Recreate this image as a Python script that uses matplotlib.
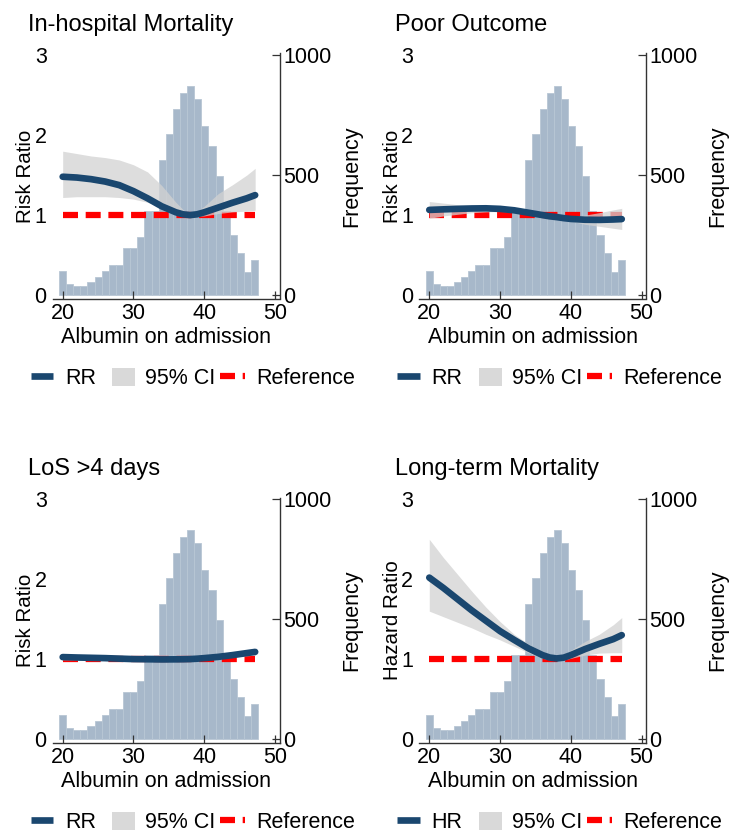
import matplotlib
matplotlib.use('Agg')
import matplotlib.pyplot as plt
from matplotlib.lines import Line2D
from matplotlib.patches import Patch

plt.rcParams['font.family'] = ['Liberation Sans', 'DejaVu Sans']

# ---------------- data ----------------
hist_start = 19.48
hist_width = 1.006
frequency = [102, 46, 39, 36, 54, 74, 102, 125, 127, 195, 195, 241, 352, 352,
             564, 670, 774, 844, 872, 816, 705, 621, 495, 349, 251, 176, 98, 148]

albumin = [20, 22, 24, 26, 28, 30, 32, 34, 36, 37, 38, 39, 40, 42, 44, 46, 47.2]

titles = ["In-hospital Mortality", "Poor Outcome", "LoS >4 days", "Long-term Mortality"]
ylabels = ["Risk Ratio", "Risk Ratio", "Risk Ratio", "Hazard Ratio"]
est_labels = ["RR", "RR", "RR", "HR"]

est_inhosp = [1.48, 1.47, 1.45, 1.42, 1.375, 1.30, 1.21, 1.11, 1.035, 1.01, 1.0, 1.01, 1.035, 1.095, 1.155, 1.21, 1.25]
lo_inhosp = [1.22, 1.23, 1.23, 1.23, 1.22, 1.20, 1.16, 1.10, 1.03, 0.995, 0.99, 0.985, 0.99, 1.02, 1.04, 1.05, 1.06]
hi_inhosp = [1.80, 1.77, 1.74, 1.72, 1.69, 1.63, 1.54, 1.37, 1.16, 1.07, 1.01, 1.05, 1.11, 1.27, 1.38, 1.50, 1.585]

est_poor = [1.065, 1.072, 1.078, 1.083, 1.085, 1.078, 1.06, 1.03, 1.0, 0.985, 0.975, 0.962, 0.952, 0.942, 0.94, 0.945, 0.95]
lo_poor = [0.96, 0.99, 1.01, 1.03, 1.04, 1.045, 1.04, 1.015, 0.99, 0.975, 0.965, 0.945, 0.925, 0.885, 0.86, 0.835, 0.82]
hi_poor = [1.17, 1.15, 1.13, 1.12, 1.11, 1.10, 1.08, 1.045, 1.01, 0.995, 0.985, 0.978, 0.978, 1.0, 1.03, 1.065, 1.085]

est_los = [1.025, 1.02, 1.016, 1.012, 1.006, 1.0, 0.998, 0.996, 0.997, 0.998, 1.0, 1.005, 1.012, 1.028, 1.05, 1.075, 1.09]
lo_los = [0.99, 0.99, 0.99, 0.99, 0.987, 0.985, 0.986, 0.987, 0.994, 0.996, 1.0, 1.002, 1.004, 1.011, 1.025, 1.04, 1.05]
hi_los = [1.06, 1.05, 1.04, 1.035, 1.025, 1.015, 1.01, 1.005, 1.0, 1.0, 1.0, 1.008, 1.02, 1.045, 1.075, 1.11, 1.13]

est_long = [2.02, 1.89, 1.75, 1.61, 1.48, 1.35, 1.24, 1.135, 1.05, 1.02, 1.008, 1.018, 1.05, 1.125, 1.19, 1.25, 1.30]
lo_long = [1.60, 1.53, 1.46, 1.39, 1.31, 1.24, 1.16, 1.08, 1.01, 0.99, 0.985, 0.99, 1.01, 1.05, 1.075, 1.08, 1.08]
hi_long = [2.50, 2.27, 2.06, 1.85, 1.65, 1.47, 1.31, 1.19, 1.09, 1.05, 1.02, 1.06, 1.11, 1.22, 1.31, 1.43, 1.52]

estimates = [est_inhosp, est_poor, est_los, est_long]
lowers = [lo_inhosp, lo_poor, lo_los, lo_long]
uppers = [hi_inhosp, hi_poor, hi_los, hi_long]

ref_x = [20, 47.2]
ref_y = [1, 1]

# ---------------- style ----------------
BLUE = '#1a476f'
HIST = '#a7b8ca'
HIST_EDGE = '#b8c6d4'
CI = '#d2d2d2'
RED = '#ff0000'
AXC = '#333333'
FS = 15.5

W, H = 729, 834
fig = plt.figure(figsize=(W / 100, H / 100), dpi=100)

AX_L, AX_T, AX_W, AX_H = 52.7, 53.5, 226.8, 245.0
offsets = [(0, 0), (366.6, 0), (0, 444), (366.6, 444)]

edges = [hist_start + hist_width * k for k in range(len(frequency))]


def fx(x):
    return x / W


def fy(y):
    return 1 - y / H


for i in range(4):
    dx, dy = offsets[i]
    ax = fig.add_axes([fx(AX_L + dx), fy(AX_T + AX_H + dy), AX_W / W, AX_H / H])
    ax2 = ax.twinx()

    # histogram (frequency, right axis)
    ax.bar(edges, frequency, width=hist_width, align='edge', color=HIST,
           edgecolor=HIST_EDGE, linewidth=0.6, zorder=1)
    ax.set_xlim(18.59, 50.64)
    ax.set_ylim(-14.6, 1007.5)
    ax.yaxis.tick_right()
    ax.set_yticks([0, 500, 1000])
    ax.set_xticks([20, 30, 40, 50])
    ax.tick_params(axis='y', direction='in', length=6, width=0.9, color=AXC,
                   pad=2.5, labelsize=FS, right=True, left=False,
                   labelright=True, labelleft=False)
    ax.tick_params(axis='x', direction='in', length=5.5, width=0.9, color=AXC,
                   pad=3.5, labelsize=FS)
    ax.set_xlabel("Albumin on admission", fontsize=FS)
    ax.xaxis.set_label_coords(0.5, (AX_T + AX_H - 327.0) / AX_H)

    # ratio curves (left axis)
    ax2.set_ylim(-0.0438, 3.0225)
    ax2.yaxis.tick_left()
    ax2.set_yticks([0, 1, 2, 3])
    ax2.tick_params(axis='y', length=0, pad=4.3, labelsize=FS, left=True, right=False,
                    labelleft=True, labelright=False)

    for s in ['left', 'top']:
        ax.spines[s].set_visible(False)
    for s in ['right', 'bottom']:
        ax.spines[s].set_visible(True)
        ax.spines[s].set_color(AXC)
        ax.spines[s].set_linewidth(1.0)
    for s in ax2.spines.values():
        s.set_visible(False)

    ax2.plot(ref_x, ref_y, color=RED, lw=4.5, linestyle=(0, (2.4, 1.23)),
             dash_capstyle='butt', zorder=2)
    ax2.fill_between(albumin, lowers[i], uppers[i], color=CI, alpha=0.75,
                     linewidth=0, zorder=3)
    ax2.plot(albumin, estimates[i], color=BLUE, lw=4.8, solid_capstyle='round',
             solid_joinstyle='round', zorder=4)

    # titles and axis labels
    fig.text(fx(28 + dx), fy(25 + dy), titles[i], fontsize=17, ha='left', va='center')
    fig.text(fx(25.5 + dx), fy(176 + dy), ylabels[i], fontsize=14.8, rotation=90,
             ha='center', va='center')
    fig.text(fx(351.5 + dx), fy(176 + dy), "Frequency", fontsize=FS, rotation=90,
             ha='center', va='center')

    # legend (three entries)
    ly = 378.3 + dy
    h1 = Line2D([], [], color=BLUE, lw=4.8, solid_capstyle='butt')
    h2 = Patch(facecolor='#d9d9d9', edgecolor='none')
    h3 = Line2D([], [], color=RED, lw=4.5, linestyle=(0, (2.4, 1.23)), dash_capstyle='butt')
    specs = [(h1, est_labels[i], 30.7, 1.05, 0.54, 0.7),
             (h2, "95% CI", 112.0, 1.07, 0.46, 0.93),
             (h3, "Reference", 220.0, 1.18, 0.51, 0.7)]
    legs = []
    for h, lab, x0, hl, htp, hh in specs:
        leg = ax2.legend(handles=[h], labels=[lab], loc='center left',
                         bbox_to_anchor=(fx(x0 + dx), fy(ly)),
                         bbox_transform=fig.transFigure, frameon=False,
                         borderpad=0, borderaxespad=0, handlelength=hl,
                         handletextpad=htp, handleheight=hh, fontsize=FS)
        legs.append(leg)
    for leg in legs[:-1]:
        ax2.add_artist(leg)

fig.savefig('out.png', dpi=100)
